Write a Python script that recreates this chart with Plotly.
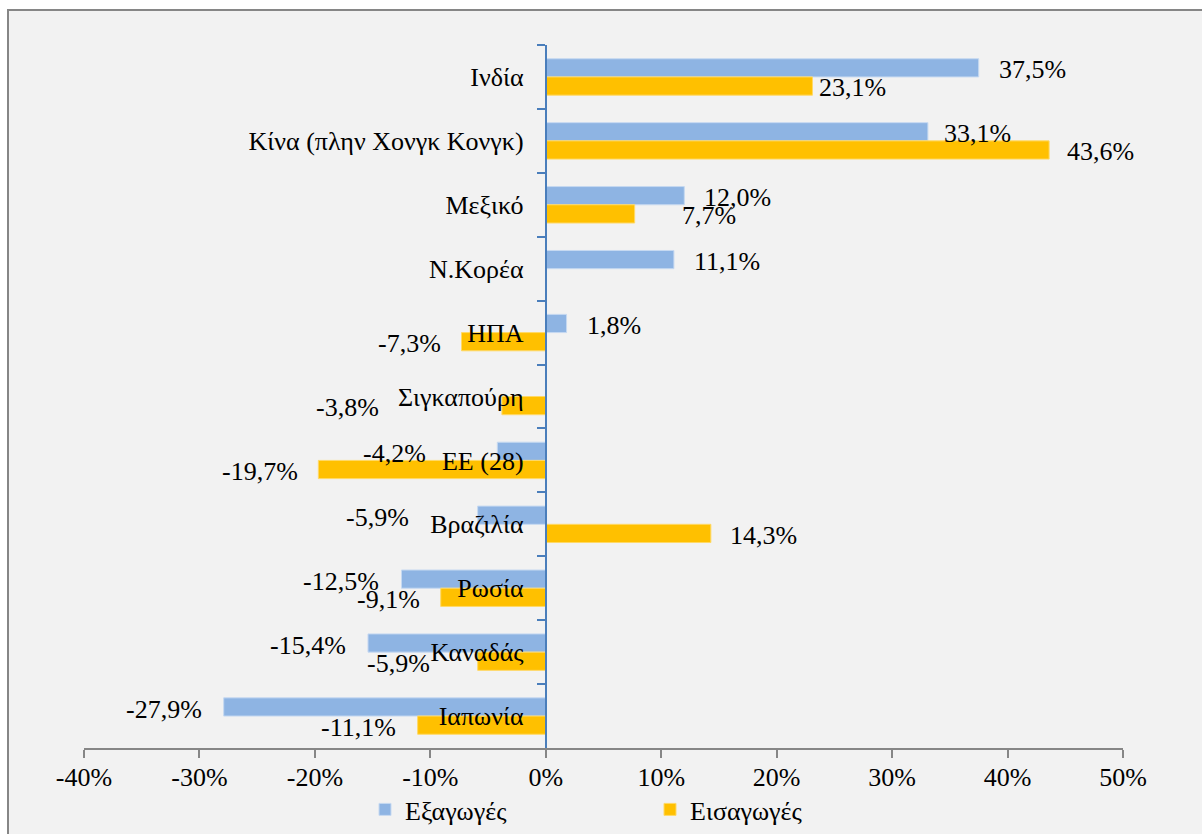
import plotly.graph_objects as go

# Annual change by trading partner (%)
countries = ["Ινδία", "Κίνα (πλην Χονγκ Κονγκ)", "Μεξικό", "Ν.Κορέα", "ΗΠΑ",
             "Σιγκαπούρη", "ΕΕ (28)", "Βραζιλία", "Ρωσία", "Καναδάς", "Ιαπωνία"]
exports = [37.5, 33.1, 12.0, 11.1, 1.8, None, -4.2, -5.9, -12.5, -15.4, -27.9]
imports = [23.1, 43.6, 7.7, None, -7.3, -3.8, -19.7, 14.3, -9.1, -5.9, -11.1]
x_ticks = [-40, -30, -20, -10, 0, 10, 20, 30, 40, 50]

# horizontal distance (px) between bar end and its value label
gap_exp = [18, 14, 18, 18, 18, 18, 69, 67, 20, 20, 20]
gap_imp = [5, 16, 45, 18, 19, 121, 18, 17, 19, 46, 20]

FONT = "Liberation Serif, Times New Roman, serif"
FS = 26
BLUE = "#8EB4E3"
GOLD = "#FFC000"


def pct(v):
    return f"{v:.1f}".replace(".", ",") + "%"


fig = go.Figure()
fig.add_trace(go.Bar(name="Εξαγωγές", y=countries, x=exports, orientation="h",
                     marker=dict(color=BLUE, line=dict(color="#C6D9F1", width=1))))
fig.add_trace(go.Bar(name="Εισαγωγές", y=countries, x=imports, orientation="h",
                     marker=dict(color=GOLD, line=dict(color="#FFD966", width=1))))

annotations = []
for series, gaps, dy in ((exports, gap_exp, 7), (imports, gap_imp, -11)):
    for c, v, g in zip(countries, series, gaps):
        if v is None:
            continue
        annotations.append(dict(
            x=v, y=c, xref="x", yref="y", text=pct(v), showarrow=False,
            xanchor="left" if v >= 0 else "right",
            xshift=g if v >= 0 else -g, yshift=dy,
            font=dict(family=FONT, size=FS, color="#000000")))

fig.update_layout(
    width=1202, height=834,
    margin=dict(l=84, r=79, t=45, b=86, autoexpand=False),
    paper_bgcolor="white", plot_bgcolor="rgba(0,0,0,0)",
    barmode="group", bargap=0.43, bargroupgap=0,
    font=dict(family=FONT, size=FS, color="#000000"),
    annotations=annotations,
    shapes=[dict(type="rect", xref="paper", yref="paper", layer="below",
                 x0=(8 - 84) / 1039, x1=(1215 - 84) / 1039,
                 y0=(748 - 845) / 703, y1=(748 - 10) / 703,
                 fillcolor="#F2F2F2", line=dict(color="#868686", width=2))],
    legend=dict(orientation="h", x=(365 - 84) / 1039, xanchor="left",
                y=(748 - 786) / 703, yanchor="top",
                entrywidth=240, entrywidthmode="pixels",
                bgcolor="rgba(0,0,0,0)", font=dict(family=FONT, size=FS)),
    xaxis=dict(range=[-40, 50], tickvals=x_ticks, ticktext=[f"{t}%" for t in x_ticks],
               showgrid=False, zeroline=False, showline=True,
               linecolor="#868686", linewidth=1.5, ticks="outside", ticklen=8,
               tickcolor="#868686", tickwidth=1.5, ticklabelstandoff=-3),
    yaxis=dict(type="category", categoryorder="array", categoryarray=countries,
               autorange="reversed", anchor="free", position=40 / 90,
               showgrid=False, zeroline=False, showline=True,
               linecolor="#4A7EBB", linewidth=2, ticks="outside", ticklen=8,
               tickcolor="#4A7EBB", tickwidth=2, tickson="boundaries",
               ticklabelstandoff=16),
)

fig.write_html("out.html")
